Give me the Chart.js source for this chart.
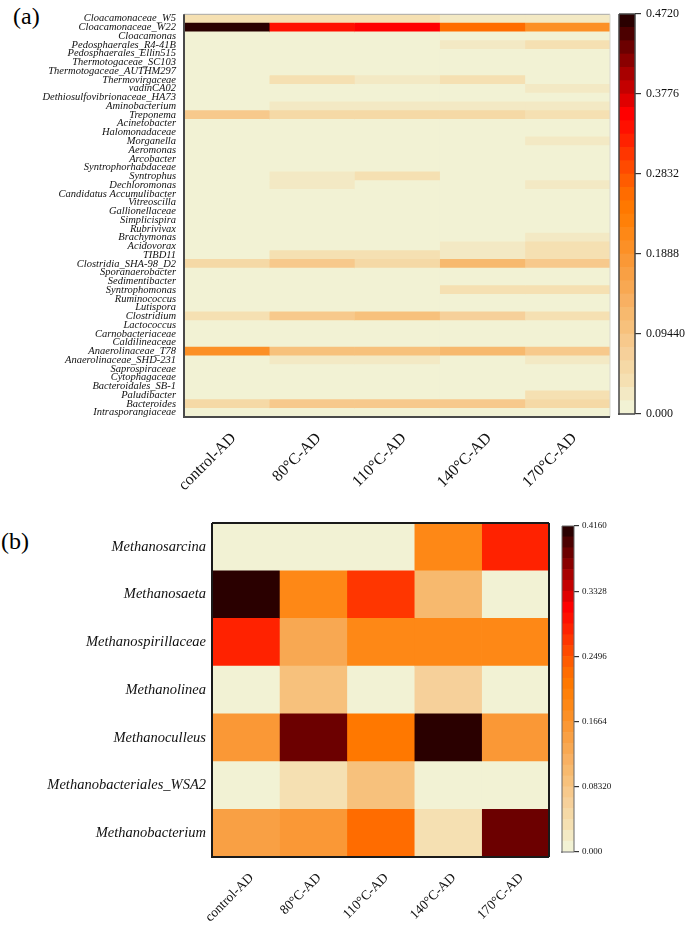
<!DOCTYPE html>
<html>
<head>
<meta charset="utf-8">
<script src="https://cdn.jsdelivr.net/npm/chart.js@4.4.1/dist/chart.umd.min.js"></script>
<style>
body{margin:0;background:#fff;width:685px;height:928px;position:relative;overflow:hidden}
canvas{position:absolute}
.tag{position:absolute;font:24px/1 'Liberation Serif',serif;color:#000}
</style>
</head>
<body>
<div class="tag" style="left:13px;top:4px">(a)</div>
<div class="tag" style="left:1px;top:529px">(b)</div>
<canvas id="heatA" width="685" height="500" style="left:0;top:0"></canvas>
<canvas id="barA" width="85" height="430" style="left:600px;top:0"></canvas>
<canvas id="heatB" width="685" height="423" style="left:0;top:505px"></canvas>
<canvas id="barB" width="90" height="350" style="left:550px;top:515px"></canvas>
<script>
const conditions = ['control-AD', '80°C-AD', '110°C-AD', '140°C-AD', '170°C-AD']

// panel (a) - bacterial taxa, top to bottom
const taxaA = ['Cloacamonaceae_W5', 'Cloacamonaceae_W22', 'Cloacamonas', 'Pedosphaerales_R4-41B',
  'Pedosphaerales_Ellin515', 'Thermotogaceae_SC103', 'Thermotogaceae_AUTHM297', 'Thermovirgaceae',
  'vadinCA02', 'Dethiosulfovibrionaceae_HA73', 'Aminobacterium', 'Treponema', 'Acinetobacter',
  'Halomonadaceae', 'Morganella', 'Aeromonas', 'Arcobacter', 'Syntrophorhabdaceae', 'Syntrophus',
  'Dechloromonas', 'Candidatus Accumulibacter', 'Vitreoscilla', 'Gallionellaceae', 'Simplicispira',
  'Rubrivivax', 'Brachymonas', 'Acidovorax', 'TIBD11', 'Clostridia_SHA-98_D2', 'Sporanaerobacter',
  'Sedimentibacter', 'Syntrophomonas', 'Ruminococcus', 'Lutispora', 'Clostridium', 'Lactococcus',
  'Carnobacteriaceae', 'Caldilineaceae', 'Anaerolinaceae_T78', 'Anaerolinaceae_SHD-231',
  'Saprospiraceae', 'Cytophagaceae', 'Bacteroidales_SB-1', 'Paludibacter', 'Bacteroides',
  'Intrasporangiaceae']

const controlA = [.039, .464, 0, 0, 0, 0, 0, 0, 0, 0,
  0, .08, 0, 0, 0, 0, 0, 0, 0, 0,
  0, 0, 0, 0, 0, 0, 0, 0, .05, 0,
  0, 0, 0, 0, .045, 0, 0, 0, .19, 0,
  0, 0, 0, 0, .05, 0]
const c80A = [.039, .338, 0, 0, 0, 0, 0, .039, 0, 0,
  .024, .05, 0, 0, 0, 0, 0, 0, .024, .024,
  0, 0, 0, 0, 0, 0, 0, .039, .08, 0,
  0, 0, 0, 0, .08, 0, 0, 0, .102, .024,
  0, 0, 0, 0, .08, 0]
const c110A = [.039, .354, 0, 0, 0, 0, 0, .024, 0, 0,
  .024, .05, 0, 0, 0, 0, 0, 0, .039, 0,
  0, 0, 0, 0, 0, 0, 0, .039, .055, 0,
  0, 0, 0, 0, .095, 0, 0, 0, .102, .024,
  0, 0, 0, 0, .08, 0]
const c140A = [.024, .26, 0, .024, 0, 0, 0, .039, 0, 0,
  .024, .05, 0, 0, 0, 0, 0, 0, 0, 0,
  0, 0, 0, 0, 0, 0, .024, .024, .118, 0,
  0, .039, 0, 0, .071, 0, 0, 0, .118, 0,
  0, 0, 0, 0, .08, 0]
const c170A = [.024, .19, 0, .039, 0, 0, 0, 0, .024, 0,
  .024, .035, 0, 0, .024, 0, 0, 0, 0, .024,
  0, 0, 0, 0, 0, .024, .039, .045, .09, 0,
  0, .045, 0, 0, .039, 0, 0, 0, .09, .024,
  0, 0, 0, .045, .05, 0]
const maxA = 0.472
const ticksA = [0, 0.0944, 0.1888, 0.2832, 0.3776, 0.472]
const tickLabelsA = ['0.000', '0.09440', '0.1888', '0.2832', '0.3776', '0.4720']

// panel (b) - methanogens
const taxaB = ['Methanosarcina', 'Methanosaeta', 'Methanospirillaceae', 'Methanolinea',
  'Methanoculleus', 'Methanobacteriales_WSA2', 'Methanobacterium']
const controlB = [0, .41, .285, 0, .16, 0, .145]
const c80B = [0, .185, .13, .09, .38, .035, .155]
const c110B = [0, .27, .185, 0, .215, .09, .23]
const c140B = [.19, .105, .185, .062, .41, 0, .035]
const c170B = [.285, 0, .185, 0, .16, 0, .38]
const maxB = 0.416
const ticksB = [0, 0.0832, 0.1664, 0.2496, 0.3328, 0.416]
const tickLabelsB = ['0.000', '0.08320', '0.1664', '0.2496', '0.3328', '0.4160']

// 30 step colour scale, light cream -> orange -> red -> almost black
const PAL = ['#F2F2D4', '#F3E9C4', '#F5E0B2', '#F5D9A6', '#F6D09A', '#F7C98C', '#F7C17C', '#F7B96E',
  '#F8B062', '#F8A852', '#F9A044', '#FA9836', '#FC9026', '#FE8816', '#FF8008', '#FF7800', '#FF6C00',
  '#FF5C00', '#FF4A00', '#FF3600', '#FF2200', '#FF1000', '#FF0000', '#E00000', '#C40000', '#A80000',
  '#8A0000', '#6C0000', '#4C0000', '#2A0000']
const SERIF = "'Liberation Serif', 'Times New Roman', serif"

function colorFor(v, max){
    return PAL[Math.min(PAL.length - 1, Math.floor(v / max * PAL.length))]
}

const frame = {
    id: 'frame',
    afterDatasetsDraw(chart, args, opts){
        const ctx = chart.ctx, a = chart.chartArea
        const side = (s, x1, y1, x2, y2) => {
            if(!s) return
            ctx.save()
            ctx.strokeStyle = s.c
            ctx.lineWidth = s.w
            ctx.beginPath()
            ctx.moveTo(x1, y1)
            ctx.lineTo(x2, y2)
            ctx.stroke()
            ctx.restore()
        }
        side(opts.top, a.left, a.top, a.right, a.top)
        side(opts.right, a.right, a.top, a.right, a.bottom)
        side(opts.bottom, a.left - 1, a.bottom, a.right, a.bottom)
        side(opts.left, a.left, a.top, a.left, a.bottom + 1)
    }
}

const areaFill = {
    id: 'areaFill',
    beforeDatasetsDraw(chart, args, opts){
        const a = chart.chartArea
        chart.ctx.save()
        chart.ctx.fillStyle = opts.color
        chart.ctx.fillRect(a.left, a.top, a.right - a.left, a.bottom - a.top)
        chart.ctx.restore()
    }
}

function heatmap(id, taxa, cols, max, o){
    return new Chart(document.getElementById(id), {
        type: 'bar',
        data: {
            labels: taxa,
            datasets: cols.map((vals, j) => ({
                label: conditions[j],
                data: vals.map(() => [j, j + 1]),
                backgroundColor: vals.map(v => colorFor(v, max)),
                borderWidth: 0,
                barPercentage: 1,
                categoryPercentage: 1,
                grouped: false
            }))
        },
        options: {
            indexAxis: 'y',
            responsive: false,
            animation: false,
            layout: { padding: o.pad },
            plugins: {
                legend: { display: false },
                tooltip: { enabled: false },
                frame: o.frame,
                areaFill: { color: PAL[0] }
            },
            scales: {
                x: { type: 'linear', min: 0, max: conditions.length, display: false },
                y: {
                    type: 'category',
                    grid: { display: false, drawTicks: false },
                    border: { display: false },
                    ticks: { autoSkip: false, padding: o.yPad, color: '#111',
                        font: { family: SERIF, size: o.ySize, style: 'italic' } },
                    afterFit: s => { s.width = o.yWidth }
                },
                xc: {
                    type: 'category',
                    axis: 'x',
                    position: 'bottom',
                    labels: conditions,
                    offset: true,
                    grid: { display: false, drawTicks: false },
                    border: { display: false },
                    ticks: { autoSkip: false, minRotation: 45, maxRotation: 45, padding: o.xPad,
                        labelOffset: o.xOff, color: '#111', font: { family: SERIF, size: o.xSize } },
                    afterFit: s => { s.height = o.xHeight }
                }
            }
        },
        plugins: [areaFill, frame]
    })
}

function colorbar(id, max, tickVals, tickLabels, o){
    const step = max / PAL.length
    return new Chart(document.getElementById(id), {
        type: 'bar',
        data: {
            labels: [''],
            datasets: PAL.map((c, k) => ({
                data: [[k * step, (k + 1) * step]],
                backgroundColor: c,
                borderWidth: 0,
                barPercentage: 1,
                categoryPercentage: 1,
                grouped: false
            }))
        },
        options: {
            responsive: false,
            animation: false,
            layout: { padding: o.pad },
            plugins: { legend: { display: false }, tooltip: { enabled: false }, frame: o.frame },
            scales: {
                x: { display: false },
                y: {
                    position: 'right',
                    min: 0,
                    max: max,
                    afterBuildTicks: s => { s.ticks = tickVals.map(v => ({ value: v })) },
                    grid: { drawOnChartArea: false, tickLength: o.tl, color: '#333', lineWidth: 1.2 },
                    border: { display: false },
                    ticks: { padding: o.tp, color: '#111', font: { family: SERIF, size: o.fs },
                        callback: (v, i) => tickLabels[i] },
                    afterFit: s => { s.width = o.w }
                }
            }
        },
        plugins: [frame]
    })
}

heatmap('heatA', taxaA, [controlA, c80A, c110A, c140A, c170A], maxA, {
    pad: { top: 8.5, right: 75, left: 0, bottom: 0 },
    yWidth: 184, ySize: 10.5, yPad: 8,
    xSize: 16, xPad: 12, xOff: 7, xHeight: 83,
    frame: { top: { c: '#a8a8a8', w: 1 }, right: { c: '#d8d8d0', w: 1 },
        bottom: { c: '#4a4a4a', w: 2 }, left: { c: '#4a4a4a', w: 2 } }
})
colorbar('barA', maxA, ticksA, tickLabelsA, {
    pad: { left: 19, top: 14, bottom: 16, right: 0 }, w: 50, tl: 6, tp: 5, fs: 12,
    frame: { top: { c: '#444', w: 1.5 }, right: { c: '#444', w: 1.5 },
        bottom: { c: '#444', w: 1.5 }, left: { c: '#444', w: 1.5 } }
})

heatmap('heatB', taxaB, [controlB, c80B, c110B, c140B, c170B], maxB, {
    pad: { top: 18, right: 136, left: 0, bottom: 0 },
    yWidth: 212, ySize: 14.5, yPad: 6,
    xSize: 13.5, xPad: 13, xOff: 6, xHeight: 71,
    frame: { top: { c: '#1a1a1a', w: 2 }, right: { c: '#1a1a1a', w: 2 },
        bottom: { c: '#1a1a1a', w: 2 }, left: { c: '#1a1a1a', w: 2 } }
})
colorbar('barB', maxB, ticksB, tickLabelsB, {
    pad: { left: 12, top: 11, bottom: 13, right: 0 }, w: 66, tl: 5, tp: 3, fs: 9,
    frame: { top: { c: '#666', w: 1 }, right: { c: '#666', w: 1 },
        bottom: { c: '#666', w: 1 }, left: { c: '#666', w: 1 } }
})
</script>
</body>
</html>
